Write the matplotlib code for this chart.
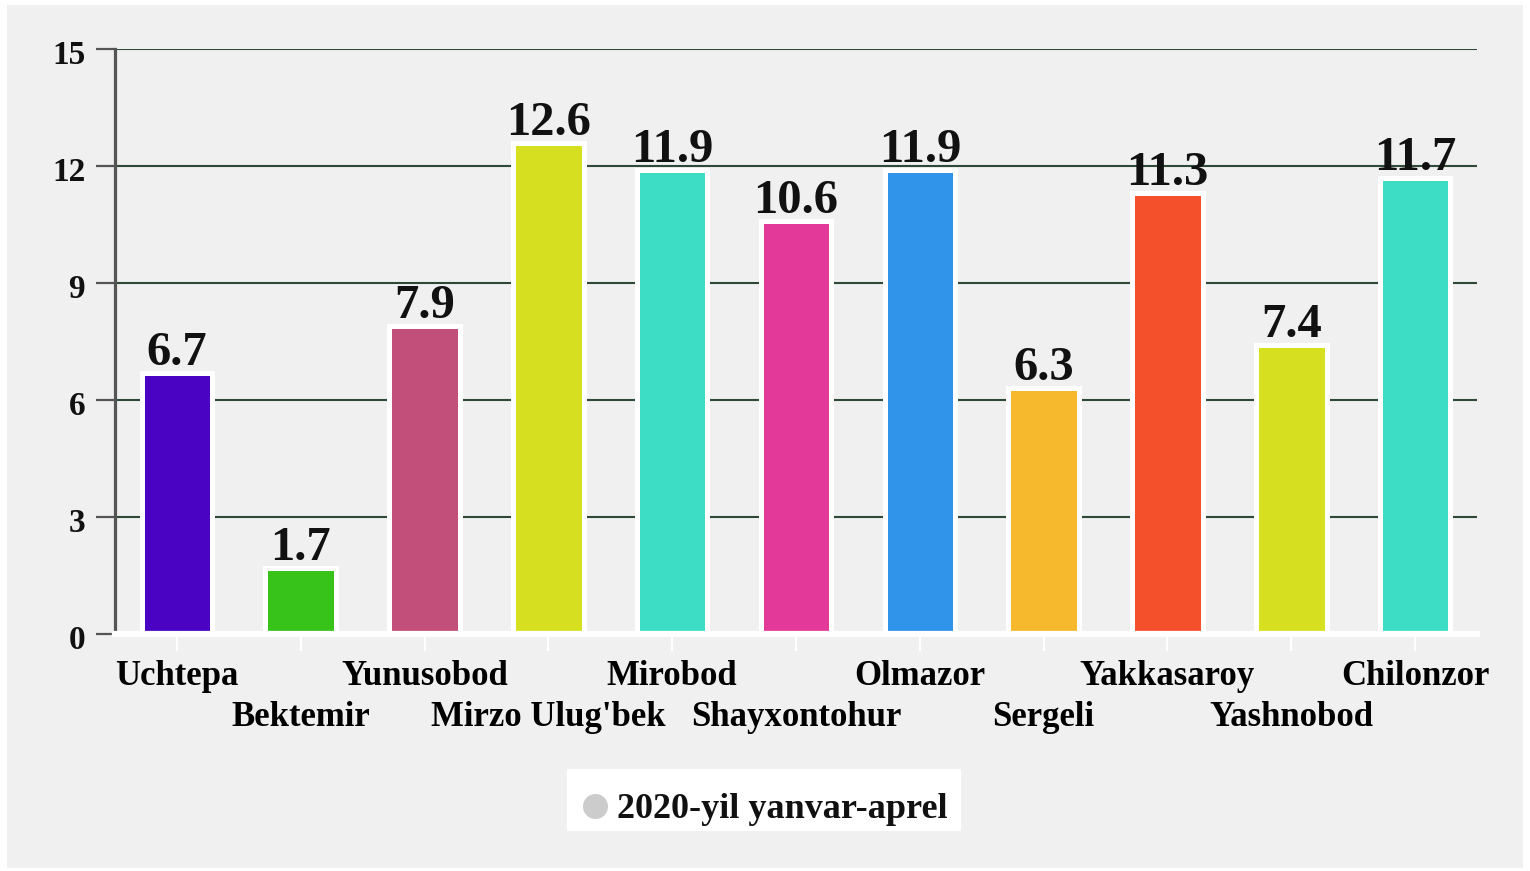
import matplotlib
matplotlib.use("Agg")
import matplotlib.pyplot as plt
from matplotlib.patches import Rectangle
from matplotlib.lines import Line2D

categories = ["Uchtepa", "Bektemir", "Yunusobod", "Mirzo Ulug'bek", "Mirobod",
              "Shayxontohur", "Olmazor", "Sergeli", "Yakkasaroy", "Yashnobod", "Chilonzor"]
values = [6.7, 1.7, 7.9, 12.6, 11.9, 10.6, 11.9, 6.3, 11.3, 7.4, 11.7]
colors = ["#4b03c3", "#38c31a", "#c24f79", "#d7df21", "#3ddcc4", "#e33a9a",
          "#3094ea", "#f6b92d", "#f5502c", "#d7df21", "#3ddcc4"]
yticks = [0, 3, 6, 9, 12, 15]
series_name = "2020-yil yanvar-aprel"

W, H = 1530, 871
plt.rcParams['font.family'] = ['Liberation Serif', 'DejaVu Serif']
fig = plt.figure(figsize=(W / 100, H / 100), dpi=100, facecolor='white')
fig.patches.append(Rectangle((7 / W, 3 / H), 1516 / W, 863 / H, transform=fig.transFigure,
                             facecolor='#f0f0f0', edgecolor='none', zorder=-10))

ax = fig.add_axes([115 / W, 1 - 634 / H, 1362 / W, 585 / H])
ax.set_facecolor('none')
x = list(range(len(categories)))
ax.bar(x, values, width=0.57, color=colors, edgecolor='white', linewidth=3.6, zorder=3)
ax.set_xlim(-0.5, len(categories) - 0.5)
ax.set_ylim(0, 15)
ax.set_yticks(yticks)
ax.set_yticklabels([])
for t in yticks:
    ax.annotate(str(t), xy=(0, t), xycoords=('axes fraction', 'data'),
                xytext=(-21.5, -5), textcoords='offset points', ha='right', va='center',
                fontsize=24, fontweight='bold', color='#111111', annotation_clip=False)
ax.yaxis.grid(True, color='#2c4a35', linewidth=1.5, zorder=0)
ax.set_axisbelow(True)

for sp in ['top', 'right']:
    ax.spines[sp].set_visible(False)
ax.spines['left'].set_color('#555555')
ax.spines['left'].set_linewidth(2.3)
ax.spines['bottom'].set_color('white')
ax.spines['bottom'].set_linewidth(4.5)
ax.spines['bottom'].set_zorder(4)
ax.tick_params(axis='y', length=14, width=1.6, color='#555555', pad=7)

# two staggered rows of category labels
ax.set_xticks(x[0::2])
ax.set_xticklabels(categories[0::2], fontsize=25, fontweight='bold')
ax.set_xticks(x[1::2], minor=True)
ax.set_xticklabels(categories[1::2], minor=True, fontsize=25, fontweight='bold')
ax.tick_params(axis='x', which='major', length=12, width=1.6, color='white', pad=7)
ax.tick_params(axis='x', which='minor', length=12, width=1.6, color='white', pad=36)

for xi, v in zip(x, values):
    ax.annotate(f"{v}", (xi, v), xytext=(0, -1.5), textcoords='offset points',
                ha='center', va='bottom', fontsize=35, fontweight='bold', color='#111111', zorder=5)

# legend box
fig.patches.append(Rectangle((567 / W, 1 - 831 / H), 394 / W, 62 / H, transform=fig.transFigure,
                             facecolor='white', edgecolor='none', zorder=1))
fig.add_artist(Line2D([595 / W], [1 - 806 / H], transform=fig.transFigure, marker='o',
                      linestyle='none', markersize=17, markerfacecolor='#cccccc',
                      markeredgecolor='#cccccc', zorder=2))
fig.text(617 / W, 1 - 818 / H, series_name, fontsize=26, fontweight='bold',
         ha='left', va='baseline', color='#111111', zorder=2)

fig.savefig("out.png", dpi=100, facecolor='white')
